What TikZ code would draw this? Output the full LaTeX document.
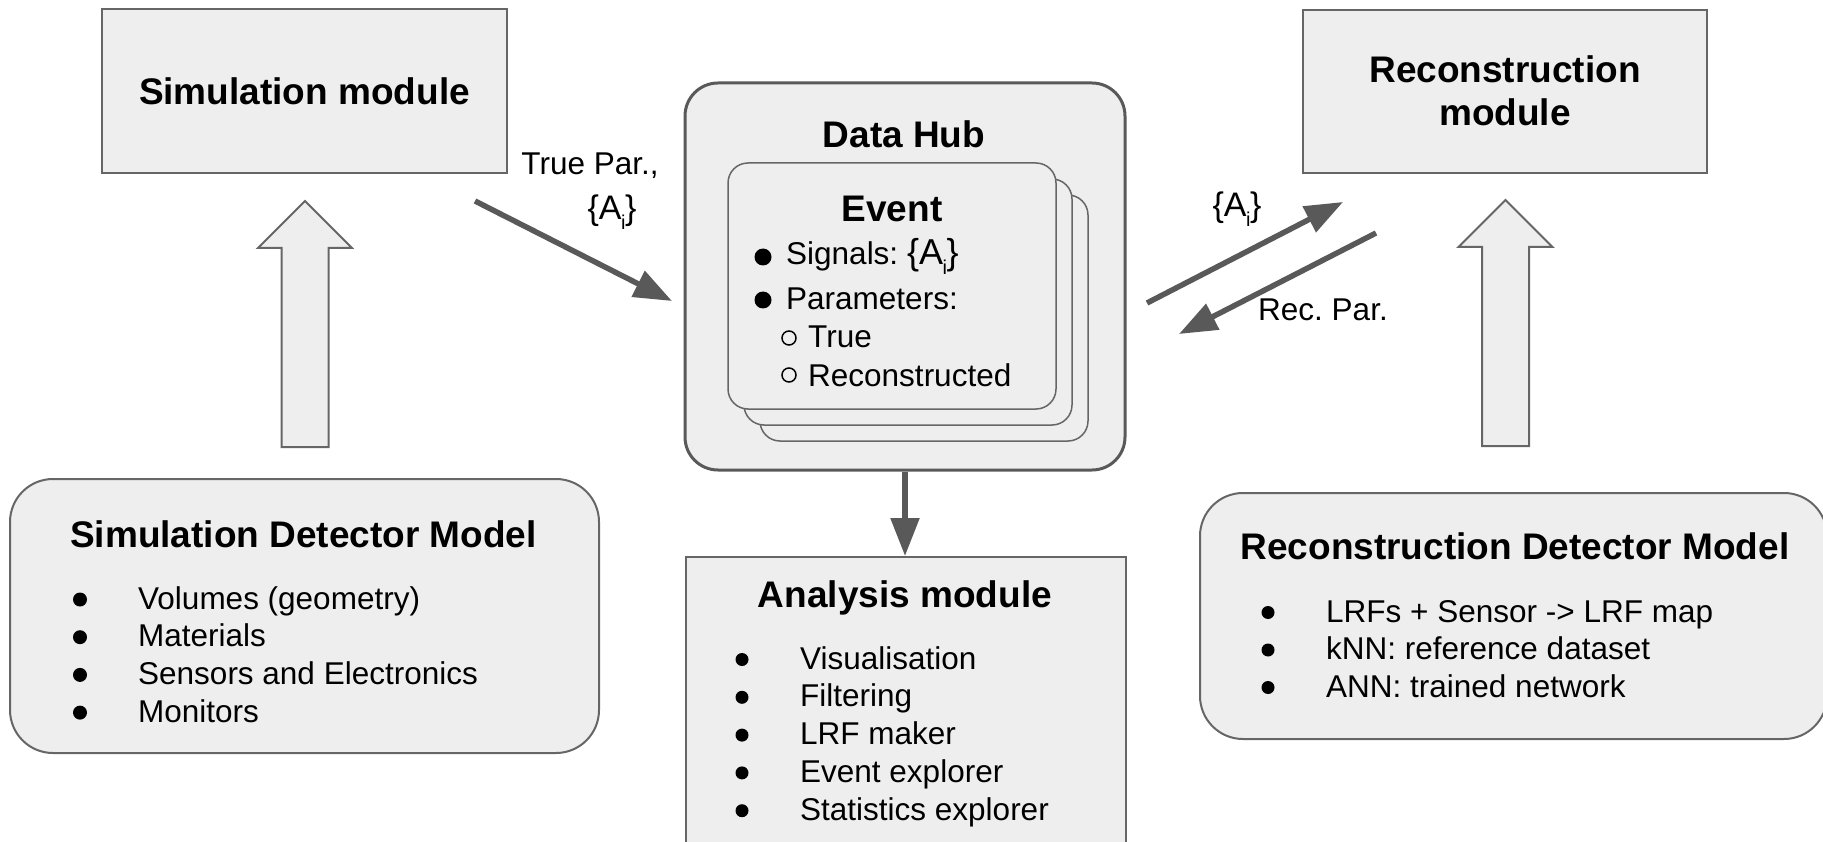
\documentclass[tikz,border=0pt]{standalone}
\usepackage{fontspec}
\setmainfont{Liberation Sans}
\usetikzlibrary{arrows.meta}
\frenchspacing
\definecolor{panelfill}{HTML}{EEEEEE}
\definecolor{paneledge}{HTML}{666666}
\definecolor{flow}{HTML}{595959}
\newcommand\headfont{\fontsize{37}{40}\selectfont\bfseries}
\newcommand\bodyfont{\fontsize{31.5}{37.8}\selectfont}
% signal set {A_i} with a lowered small index
\newcommand\setA[1]{{\fontsize{#1}{#1}\selectfont\{A\kern-0.5pt\raisebox{-10pt}{\fontsize{20}{20}\selectfont i}\kern-0.5pt\}}}
\begin{document}
\begin{tikzpicture}[x=1pt, y=-1pt,
  panel/.style={draw=paneledge, fill=panelfill, line width=2pt, inner sep=0pt},
  roundpanel/.style={panel, rounded corners=43pt},
  hubbox/.style={draw=flow, fill=panelfill, line width=3pt, rounded corners=33pt, inner sep=0pt},
  card/.style={draw=paneledge, fill=panelfill, line width=1.5pt, rounded corners=20pt,
               minimum width=328pt, minimum height=246pt, inner sep=0pt},
  head/.style={font=\headfont, inner sep=0pt},
  item/.style={font=\bodyfont, inner sep=0pt, anchor=base west},
  dot/.style={circle, fill=black, inner sep=0pt, minimum size=13pt},
  ring/.style={circle, draw=black, line width=1.5pt, inner sep=0pt, minimum size=14pt},
  flowline/.style={draw=flow, line width=5.5pt, -{Triangle[length=38pt,width=28pt]}},
  bigarrow/.style={draw=paneledge, fill=panelfill, line width=2pt, line join=miter},
  lbl/.style={font=\bodyfont, inner sep=0pt}]
\path[use as bounding box, clip] (0,0) rectangle (1823,842);

% ---- top modules ----
\node[panel, minimum width=405pt, minimum height=164pt, font=\headfont] (simmod) at (304.5,91) {Simulation module};
\node[panel, minimum width=404pt, minimum height=163pt] (recmod) at (1505,91.5) {};
% the base anchor of a two-line node sits on its last line
\node[head, anchor=base, align=center, font=\fontsize{37}{43}\selectfont\bfseries] (rectitle) at (1505,126)
  {Reconstruction\\module};

% ---- hollow upward arrows from the detector models ----
\foreach \tx/\ty in {305/201, 1505.5/200}
  \draw[bigarrow, shift={(\tx,\ty)}] (0,0) -- (47,47) -- (23.5,47) -- (23.5,246)
        -- (-23.5,246) -- (-23.5,47) -- (-47,47) -- cycle;

% ---- data hub with stacked event cards ----
\node[hubbox, minimum width=440pt, minimum height=387pt] (hub) at (905,276.5) {};
\node[head, anchor=base] (hubtitle) at (904,148) {Data Hub};
\node[card] (card3) at (924,318) {};
\node[card] (card2) at (908,302) {};
\node[card] (card1) at (892,286) {};
\node[head, anchor=base] (evtitle) at (892,222) {Event};
\node[dot, minimum size=17pt] (evb1) at (763,257) {};
\node[item] (evsig) at (786,265) {Signals: \setA{36}};
\node[dot, minimum size=17pt] (evb2) at (763,300) {};
\node[item] (evpar) at (786,309) {Parameters:};
\node[ring] (evr1) at (789,338) {};
\node[item] (evtrue) at (808,348) {True};
\node[ring] (evr2) at (789,375) {};
\node[item] (evrec) at (808,386) {Reconstructed};

% ---- analysis module ----
\node[panel, minimum width=440pt, minimum height=330pt] (analysis) at (906,722) {};
\node[head, anchor=base] (antitle) at (905,607) {Analysis module};
\foreach \txt [count=\k from 0] in {Visualisation, Filtering, LRF maker, Event explorer, Statistics explorer} {
  \pgfmathsetmacro\by{669+37.8*\k}
  \node[dot] (an-b\k) at (742,\by-9.5) {};
  \node[item] (an-t\k) at (800,\by) {\txt};
}

% ---- simulation detector model ----
\node[roundpanel, minimum width=589pt, minimum height=274pt] (simdet) at (304.5,616) {};
\node[head, anchor=base west] (sdtitle) at (70,547) {Simulation Detector Model};
\foreach \txt [count=\k from 0] in {Volumes (geometry), Materials, Sensors and Electronics, Monitors} {
  \pgfmathsetmacro\by{609+37.7*\k}
  \node[dot, minimum size=14pt] (sd-b\k) at (80,\by-9.5) {};
  \node[item] (sd-t\k) at (138,\by) {\txt};
}

% ---- reconstruction detector model ----
\node[roundpanel, minimum width=627pt, minimum height=246pt] (recdet) at (1513.5,616) {};
\node[head, anchor=base] (rdtitle) at (1515,559) {Reconstruction Detector Model};
\foreach \txt [count=\k from 0] in {LRFs + Sensor -> LRF map, kNN: reference dataset, ANN: trained network} {
  \pgfmathsetmacro\by{622+37.5*\k}
  \node[dot] (rd-b\k) at (1268,\by-9.5) {};
  \node[item] (rd-t\k) at (1326,\by) {\txt};
}

% ---- data flow ----
\coordinate (tp-s) at (475,201);
\coordinate (tp-e) at (672,301);
\draw[flowline] (tp-s) -- (tp-e);
\node[lbl, anchor=base] (truepar) at (590,175) {True Par.,};
\node[lbl, anchor=base] (trueA) at (612,220) {\setA{34}};

\coordinate (ra-s) at (1147,303);
\coordinate (ra-e) at (1343,202);
\draw[flowline] (ra-s) -- (ra-e);
\node[lbl, anchor=base] (recA) at (1237,217) {\setA{34}};

\coordinate (rp-s) at (1376,233);
\coordinate (rp-e) at (1179,334);
\draw[flowline] (rp-s) -- (rp-e);
\node[lbl, anchor=base] (recpar) at (1323,320) {Rec. Par.};

\draw[flowline] (hub.south) -- (hub.south |- analysis.north);
\end{tikzpicture}
\end{document}
